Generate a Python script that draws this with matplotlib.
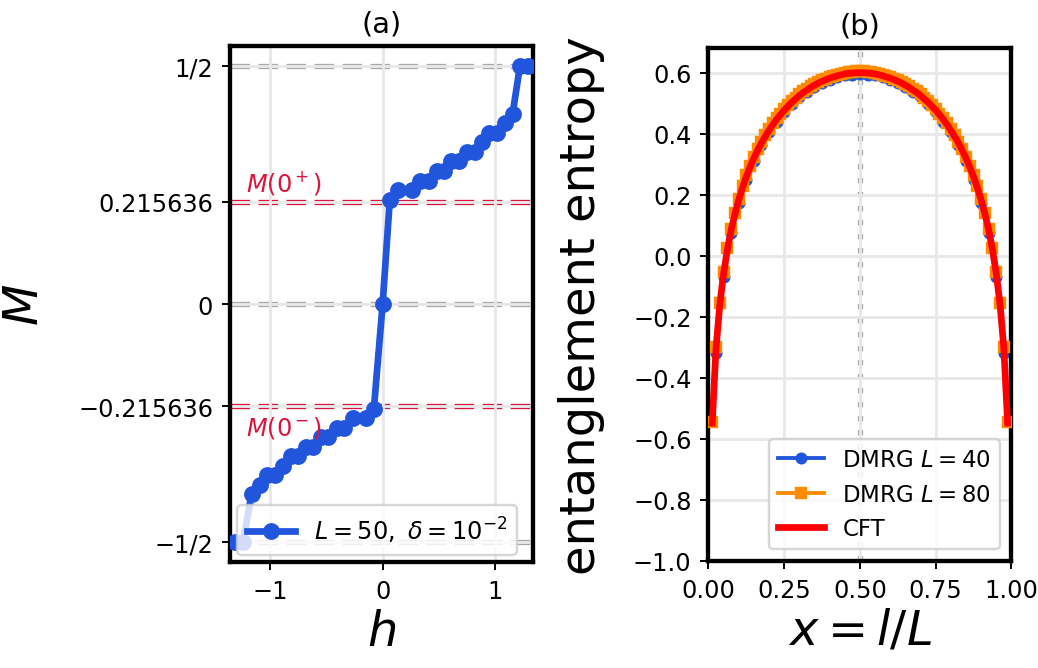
import matplotlib
matplotlib.use("Agg")
import matplotlib.pyplot as plt
import numpy as np

# panel (a): magnetisation curve, L = 50
h_vals = [-1.317, -1.243, -1.168, -1.094, -1.029, -0.961, -0.887, -0.821, -0.753,
          -0.684, -0.619, -0.553, -0.486, -0.411, -0.343, -0.268, -0.150, -0.078,
          0.0,
          0.064, 0.138, 0.260, 0.336, 0.412, 0.480, 0.545, 0.612, 0.682,
          0.748, 0.819, 0.884, 0.949, 1.018, 1.089, 1.158, 1.223, 1.294]
M_vals = [-0.50, -0.50, -0.40, -0.38, -0.36, -0.36, -0.34, -0.32, -0.32,
          -0.30, -0.30, -0.28, -0.28, -0.26, -0.26, -0.24, -0.24, -0.22,
          0.0,
          0.22, 0.24, 0.24, 0.26, 0.26, 0.28, 0.28, 0.30, 0.30,
          0.32, 0.32, 0.34, 0.36, 0.36, 0.38, 0.40, 0.50, 0.50]
M_jump = 0.215636
M_ticks = [-0.5, -M_jump, 0, M_jump, 0.5]
M_ticklabels = ['\u22121/2', '\u22120.215636', '0', '0.215636', '1/2']

# panel (b): entanglement entropy
L40 = 40
S40 = [-0.318, -0.071, 0.074, 0.173, 0.249, 0.312, 0.362, 0.404, 0.440, 0.471,
       0.497, 0.520, 0.538, 0.554, 0.567, 0.577, 0.585, 0.591, 0.594, 0.595,
       0.594, 0.591, 0.585, 0.577, 0.567, 0.554, 0.538, 0.520, 0.497, 0.471,
       0.440, 0.404, 0.362, 0.312, 0.249, 0.173, 0.074, -0.071, -0.318]
L80 = 80
S80 = [-0.545, -0.300, -0.156, -0.055, 0.024, 0.088, 0.141, 0.187, 0.227, 0.263,
       0.295, 0.324, 0.350, 0.374, 0.395, 0.415, 0.434, 0.451, 0.466, 0.481,
       0.494, 0.507, 0.518, 0.529, 0.539, 0.547, 0.556, 0.563, 0.570, 0.576,
       0.581, 0.586, 0.590, 0.594, 0.597, 0.600, 0.602, 0.603, 0.604, 0.604,
       0.604, 0.603, 0.602, 0.600, 0.597, 0.594, 0.590, 0.586, 0.581, 0.576,
       0.570, 0.563, 0.556, 0.547, 0.539, 0.529, 0.518, 0.507, 0.494, 0.481,
       0.466, 0.451, 0.434, 0.415, 0.395, 0.374, 0.350, 0.324, 0.295, 0.263,
       0.227, 0.187, 0.141, 0.088, 0.024, -0.055, -0.156, -0.300, -0.545]
S_cft = [-0.549, -0.304, -0.160, -0.059, 0.020, 0.084, 0.137, 0.183, 0.223, 0.259,
         0.291, 0.320, 0.346, 0.370, 0.391, 0.411, 0.430, 0.447, 0.462, 0.477,
         0.490, 0.503, 0.514, 0.525, 0.535, 0.543, 0.552, 0.559, 0.566, 0.572,
         0.577, 0.582, 0.586, 0.590, 0.593, 0.596, 0.598, 0.599, 0.600, 0.600,
         0.600, 0.599, 0.598, 0.596, 0.593, 0.590, 0.586, 0.582, 0.577, 0.572,
         0.566, 0.559, 0.552, 0.543, 0.535, 0.525, 0.514, 0.503, 0.490, 0.477,
         0.462, 0.447, 0.430, 0.411, 0.391, 0.370, 0.346, 0.320, 0.291, 0.259,
         0.223, 0.183, 0.137, 0.084, 0.020, -0.059, -0.160, -0.304, -0.549]

x40 = np.arange(1, L40) / L40
x80 = np.arange(1, L80) / L80

blue = '#2156dc'
fig = plt.figure(figsize=(6.0, 3.867), dpi=173)

# (a)
ax1 = fig.add_axes([0.2216, 0.1584, 0.2919, 0.7713])
ax1.grid(True, color='#e8e8e8', lw=1.2)
for yv in [-0.5, 0, 0.5]:
    ax1.axhline(yv, color='#a9a9a9', ls='--', lw=2.2, zorder=1)
for yv in [-M_jump, M_jump]:
    ax1.axhline(yv, color='crimson', ls='--', lw=2.2, zorder=1)
ax1.plot(h_vals, M_vals, '-o', color=blue, lw=2.8, ms=6,
         label=r'$L=50,\ \delta=10^{-2}$', zorder=3)
ax1.text(-1.22, 0.238, r'$M(0^+)$', color='crimson', fontsize=10)
ax1.text(-1.22, -0.232, r'$M(0^-)$', color='crimson', fontsize=10, va='top')
ax1.set_xlim(-1.36, 1.34)
ax1.set_ylim(-0.543, 0.543)
ax1.set_xticks([-1, 0, 1])
ax1.set_yticks(M_ticks)
ax1.set_yticklabels(M_ticklabels)
ax1.tick_params(labelsize=10)
ax1.set_xlabel(r'$h$', fontsize=20)
ax1.set_ylabel(r'$M$', fontsize=20)
ax1.xaxis.set_label_coords(0.5, -0.09)
ax1.yaxis.set_label_coords(-0.60, 0.5)
ax1.set_title('(a)', fontsize=12)
ax1.legend(loc='lower left', fontsize=10, framealpha=0.8,
           borderaxespad=0.3)
for sp in ax1.spines.values():
    sp.set_linewidth(1.8)

# (b)
ax2 = fig.add_axes([0.6825, 0.1604, 0.2919, 0.7659])
ax2.grid(True, color='#e8e8e8', lw=1.2)
ax2.axvline(0.5, color='#aaaaaa', ls=':', lw=2.2, zorder=1)
ax2.plot(x40, S40, '-o', color=blue, lw=1.6, ms=4, label=r'DMRG $L=40$', zorder=2)
ax2.plot(x80, S80, '-s', color='darkorange', lw=1.6, ms=4, label=r'DMRG $L=80$', zorder=3)
ax2.plot(x80, S_cft, '-', color='red', lw=2.8, label='CFT', zorder=4)
ax2.set_xlim(0, 1)
ax2.set_ylim(-1.0, 0.68)
ax2.set_xticks([0, 0.25, 0.5, 0.75, 1.0])
ax2.set_yticks(np.arange(-1.0, 0.61, 0.2))
ax2.tick_params(labelsize=10)
ax2.set_xlabel(r'$x=l/L$', fontsize=20)
ax2.set_ylabel('entanglement entropy', fontsize=20)
ax2.xaxis.set_label_coords(0.5, -0.09)
ax2.yaxis.set_label_coords(-0.34, 0.5)
ax2.set_title('(b)', fontsize=12)
ax2.legend(loc='lower right', fontsize=9.5, framealpha=0.8)
for sp in ax2.spines.values():
    sp.set_linewidth(1.8)

fig.savefig('out.png', dpi=173)
